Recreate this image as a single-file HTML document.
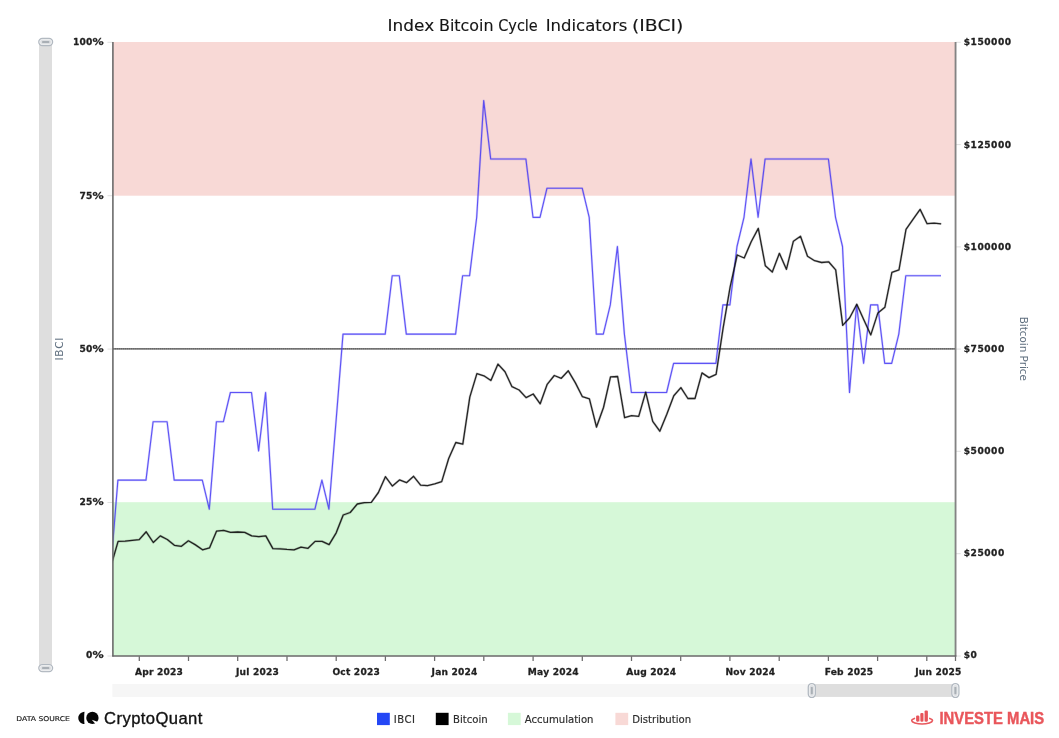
<!DOCTYPE html>
<html lang="en">
<head>
<meta charset="utf-8">
<title>Index Bitcoin Cycle Indicators (IBCI)</title>
<style>
html,body{margin:0;padding:0;background:#fff;}
body{width:1059px;height:738px;overflow:hidden;position:relative;font-family:"DejaVu Sans","Liberation Sans",sans-serif;}
svg{position:absolute;left:0;top:0;display:block;}
text{font-family:"DejaVu Sans","Liberation Sans",sans-serif;}
.ax{font-weight:bold;font-size:9.1px;letter-spacing:0.2px;fill:#1f1f1f;stroke:#1f1f1f;stroke-width:0.28px;stroke-linejoin:round;}
.lg{font-size:10.1px;fill:#2c2c2c;stroke:#2c2c2c;stroke-width:0.16px;}
.ttl{font-size:15.1px;fill:#151515;stroke:#151515;stroke-width:0.12px;}
.yt{font-size:10.6px;fill:#5f6f7f;}
.yl{letter-spacing:0.7px;}
</style>
</head>
<body>
<svg width="1059" height="738" viewBox="0 0 1059 738">
  <!-- zones -->
  <rect x="112.7" y="42" width="842.8" height="153.7" fill="#f8d9d6"/>
  <rect x="112.7" y="502.2" width="842.8" height="153.6" fill="#d6f8d8"/>

  <!-- ticks (faint) -->
  <g stroke="#dcdcdc" stroke-width="0.9">
    <path d="M107.5 42.3H112.5M107.5 195.7H112.5M107.5 349.1H112.5M107.5 502.5H112.5M107.5 656H112.5"/>
    <path d="M955.5 42.3H960.8M955.5 144.6H960.8M955.5 246.9H960.8M955.5 349.1H960.8M955.5 451.3H960.8M955.5 553.7H960.8M955.5 656H960.8"/>
  </g>

  <!-- 50% dotted guide -->
  <line x1="113" y1="348.8" x2="955" y2="348.8" stroke="#929292" stroke-width="1.65"/>
  <line x1="113" y1="348.8" x2="955" y2="348.8" stroke="#3a3a3a" stroke-opacity="0.5" stroke-width="1.5" stroke-dasharray="1.4 0.55"/>

  <!-- series -->
  <clipPath id="plot"><rect x="112.9" y="40" width="842.8" height="617"/></clipPath>
  <g clip-path="url(#plot)" fill="none" stroke-linejoin="round">
    <polyline stroke="#4336f3" stroke-opacity="0.2" stroke-width="2.3" points="110.8,567.6 117.9,480.1 124.9,480.1 132.0,480.1 139.0,480.1 146.0,480.1 153.1,421.7 160.1,421.7 167.1,421.7 174.2,480.1 181.2,480.1 188.2,480.1 195.3,480.1 202.3,480.1 209.3,509.2 216.4,421.7 223.4,421.7 230.4,392.5 237.5,392.5 244.5,392.5 251.5,392.5 258.6,450.9 265.6,392.5 272.7,509.2 279.7,509.2 286.7,509.2 293.8,509.2 300.8,509.2 307.8,509.2 314.9,509.2 321.9,480.1 328.9,509.2 336.0,421.7 343.0,334.1 350.0,334.1 357.1,334.1 364.1,334.1 371.1,334.1 378.2,334.1 385.2,334.1 392.2,275.7 399.3,275.7 406.3,334.1 413.4,334.1 420.4,334.1 427.4,334.1 434.5,334.1 441.5,334.1 448.5,334.1 455.6,334.1 462.6,275.7 469.6,275.7 476.7,217.3 483.7,100.6 490.7,159.0 497.8,159.0 504.8,159.0 511.8,159.0 518.9,159.0 525.9,159.0 533.0,217.3 540.0,217.3 547.0,188.2 554.1,188.2 561.1,188.2 568.1,188.2 575.2,188.2 582.2,188.2 589.2,217.3 596.3,334.1 603.3,334.1 610.3,304.9 617.4,246.5 624.4,334.1 631.4,392.5 638.5,392.5 645.5,392.5 652.5,392.5 659.6,392.5 666.6,392.5 673.6,363.3 680.7,363.3 687.7,363.3 694.8,363.3 701.8,363.3 708.8,363.3 715.9,363.3 722.9,304.9 729.9,304.9 737.0,246.5 744.0,217.3 751.0,159.0 758.1,217.3 765.1,159.0 772.1,159.0 779.2,159.0 786.2,159.0 793.2,159.0 800.3,159.0 807.3,159.0 814.4,159.0 821.4,159.0 828.4,159.0 835.5,217.3 842.5,246.5 849.5,392.5 856.6,304.9 863.6,363.3 870.6,304.9 877.7,304.9 884.7,363.3 891.7,363.3 898.8,334.1 905.8,275.7 912.8,275.7 919.9,275.7 926.9,275.7 933.9,275.7 941.0,275.7"/>
    <polyline stroke="#4336f3" stroke-opacity="0.82" stroke-width="1.15" points="110.8,567.6 117.9,480.1 124.9,480.1 132.0,480.1 139.0,480.1 146.0,480.1 153.1,421.7 160.1,421.7 167.1,421.7 174.2,480.1 181.2,480.1 188.2,480.1 195.3,480.1 202.3,480.1 209.3,509.2 216.4,421.7 223.4,421.7 230.4,392.5 237.5,392.5 244.5,392.5 251.5,392.5 258.6,450.9 265.6,392.5 272.7,509.2 279.7,509.2 286.7,509.2 293.8,509.2 300.8,509.2 307.8,509.2 314.9,509.2 321.9,480.1 328.9,509.2 336.0,421.7 343.0,334.1 350.0,334.1 357.1,334.1 364.1,334.1 371.1,334.1 378.2,334.1 385.2,334.1 392.2,275.7 399.3,275.7 406.3,334.1 413.4,334.1 420.4,334.1 427.4,334.1 434.5,334.1 441.5,334.1 448.5,334.1 455.6,334.1 462.6,275.7 469.6,275.7 476.7,217.3 483.7,100.6 490.7,159.0 497.8,159.0 504.8,159.0 511.8,159.0 518.9,159.0 525.9,159.0 533.0,217.3 540.0,217.3 547.0,188.2 554.1,188.2 561.1,188.2 568.1,188.2 575.2,188.2 582.2,188.2 589.2,217.3 596.3,334.1 603.3,334.1 610.3,304.9 617.4,246.5 624.4,334.1 631.4,392.5 638.5,392.5 645.5,392.5 652.5,392.5 659.6,392.5 666.6,392.5 673.6,363.3 680.7,363.3 687.7,363.3 694.8,363.3 701.8,363.3 708.8,363.3 715.9,363.3 722.9,304.9 729.9,304.9 737.0,246.5 744.0,217.3 751.0,159.0 758.1,217.3 765.1,159.0 772.1,159.0 779.2,159.0 786.2,159.0 793.2,159.0 800.3,159.0 807.3,159.0 814.4,159.0 821.4,159.0 828.4,159.0 835.5,217.3 842.5,246.5 849.5,392.5 856.6,304.9 863.6,363.3 870.6,304.9 877.7,304.9 884.7,363.3 891.7,363.3 898.8,334.1 905.8,275.7 912.8,275.7 919.9,275.7 926.9,275.7 933.9,275.7 941.0,275.7"/>
    <g transform="translate(0.2 0.2)">
      <polyline stroke="#111" stroke-opacity="0.2" stroke-width="2.4" points="110.8,565.6 117.9,541.2 124.9,541.0 132.0,540.2 139.0,539.4 146.0,531.6 153.1,542.3 160.1,535.7 167.1,539.3 174.2,545.1 181.2,546.1 188.2,540.6 195.3,544.7 202.3,549.6 209.3,547.7 216.4,530.9 223.4,530.2 230.4,532.2 237.5,531.8 244.5,532.2 251.5,535.7 258.6,536.5 265.6,535.7 272.7,548.4 279.7,548.6 286.7,549.2 293.8,549.6 300.8,546.9 307.8,548.1 314.9,541.2 321.9,541.2 328.9,544.4 336.0,532.6 343.0,514.8 350.0,512.3 357.1,503.8 364.1,502.5 371.1,502.2 378.2,492.3 385.2,476.5 392.2,485.9 399.3,479.7 406.3,482.5 413.4,476.1 420.4,485.0 427.4,485.5 434.5,483.7 441.5,481.4 448.5,458.3 455.6,442.3 462.6,444.0 469.6,396.9 476.7,373.4 483.7,375.6 490.7,380.3 497.8,363.9 504.8,371.6 511.8,386.5 518.9,389.8 525.9,397.4 533.0,393.8 540.0,403.6 547.0,384.1 554.1,375.3 561.1,378.1 568.1,370.6 575.2,382.7 582.2,396.5 589.2,398.6 596.3,426.8 603.3,407.3 610.3,376.7 617.4,376.3 624.4,417.5 631.4,415.4 638.5,416.2 645.5,391.9 652.5,421.1 659.6,431.0 666.6,414.0 673.6,395.5 680.7,387.4 687.7,398.3 694.8,398.3 701.8,372.7 708.8,377.4 715.9,374.2 722.9,328.0 729.9,287.0 737.0,254.8 744.0,257.8 751.0,241.5 758.1,228.2 765.1,265.5 772.1,271.9 779.2,253.1 786.2,269.1 793.2,241.0 800.3,236.1 807.3,256.0 814.4,260.5 821.4,262.3 828.4,261.6 835.5,269.7 842.5,325.2 849.5,317.6 856.6,304.1 863.6,319.5 870.6,334.7 877.7,312.7 884.7,307.0 891.7,272.2 898.8,269.7 905.8,229.2 912.8,219.2 919.9,209.2 926.9,223.5 933.9,222.9 941.0,223.7"/>
      <polyline stroke="#111" stroke-opacity="0.9" stroke-width="1.3" points="110.8,565.6 117.9,541.2 124.9,541.0 132.0,540.2 139.0,539.4 146.0,531.6 153.1,542.3 160.1,535.7 167.1,539.3 174.2,545.1 181.2,546.1 188.2,540.6 195.3,544.7 202.3,549.6 209.3,547.7 216.4,530.9 223.4,530.2 230.4,532.2 237.5,531.8 244.5,532.2 251.5,535.7 258.6,536.5 265.6,535.7 272.7,548.4 279.7,548.6 286.7,549.2 293.8,549.6 300.8,546.9 307.8,548.1 314.9,541.2 321.9,541.2 328.9,544.4 336.0,532.6 343.0,514.8 350.0,512.3 357.1,503.8 364.1,502.5 371.1,502.2 378.2,492.3 385.2,476.5 392.2,485.9 399.3,479.7 406.3,482.5 413.4,476.1 420.4,485.0 427.4,485.5 434.5,483.7 441.5,481.4 448.5,458.3 455.6,442.3 462.6,444.0 469.6,396.9 476.7,373.4 483.7,375.6 490.7,380.3 497.8,363.9 504.8,371.6 511.8,386.5 518.9,389.8 525.9,397.4 533.0,393.8 540.0,403.6 547.0,384.1 554.1,375.3 561.1,378.1 568.1,370.6 575.2,382.7 582.2,396.5 589.2,398.6 596.3,426.8 603.3,407.3 610.3,376.7 617.4,376.3 624.4,417.5 631.4,415.4 638.5,416.2 645.5,391.9 652.5,421.1 659.6,431.0 666.6,414.0 673.6,395.5 680.7,387.4 687.7,398.3 694.8,398.3 701.8,372.7 708.8,377.4 715.9,374.2 722.9,328.0 729.9,287.0 737.0,254.8 744.0,257.8 751.0,241.5 758.1,228.2 765.1,265.5 772.1,271.9 779.2,253.1 786.2,269.1 793.2,241.0 800.3,236.1 807.3,256.0 814.4,260.5 821.4,262.3 828.4,261.6 835.5,269.7 842.5,325.2 849.5,317.6 856.6,304.1 863.6,319.5 870.6,334.7 877.7,312.7 884.7,307.0 891.7,272.2 898.8,269.7 905.8,229.2 912.8,219.2 919.9,209.2 926.9,223.5 933.9,222.9 941.0,223.7"/>
    </g>
  </g>

  <!-- axes -->
  <g fill="none">
    <line x1="112.9" y1="42" x2="112.9" y2="656.6" stroke="#6b6b6b" stroke-width="1.6"/>
    <line x1="955.55" y1="42" x2="955.55" y2="656.6" stroke="#838383" stroke-width="1.85"/>
    <line x1="112.2" y1="656" x2="956.3" y2="656" stroke="#696969" stroke-width="1.4"/>
    <path stroke="#6c6c6c" stroke-width="1.25" d="M139.3 656.3V661M188.5 656.3V661M237.7 656.3V661M287.0 656.3V661M336.2 656.3V661M385.4 656.3V661M434.6 656.3V661M483.8 656.3V661M533.1 656.3V661M582.3 656.3V661M631.5 656.3V661M680.7 656.3V661M729.9 656.3V661M779.2 656.3V661M828.4 656.3V661M877.6 656.3V661M926.8 656.3V661M955.5 656.3V661"/>
  </g>

  <!-- left value scrollbar -->
  <rect x="39" y="42" width="13" height="626" fill="#dedede"/>
  <g>
    <rect x="38.85" y="38.45" width="13.7" height="7" rx="3.5" ry="3.5" fill="#e8eaec" stroke="#b1b8c0" stroke-width="1.4"/>
    <rect x="39.85" y="39.45" width="11.70" height="5.00" rx="2.50" ry="2.50" fill="#dddfe2" stroke="#f2f3f5" stroke-width="0.7"/>
    <rect x="42.1" y="41" width="7.2" height="2" rx="0.6" fill="#a9afb5"/>
    <rect x="38.85" y="664.6" width="13.7" height="7" rx="3.5" ry="3.5" fill="#e8eaec" stroke="#b1b8c0" stroke-width="1.4"/>
    <rect x="39.85" y="665.60" width="11.70" height="5.00" rx="2.50" ry="2.50" fill="#dddfe2" stroke="#f2f3f5" stroke-width="0.7"/>
    <rect x="42.1" y="667.1" width="7.2" height="2" rx="0.6" fill="#a9afb5"/>
  </g>

  <!-- bottom category scrollbar -->
  <rect x="112.4" y="684" width="843.1" height="12.9" fill="#f6f6f6"/>
  <rect x="811.8" y="684" width="143.6" height="12.9" fill="#dedede"/>
  <g>
    <rect x="808.35" y="683.6" width="6.9" height="13.8" rx="3.45" ry="3.45" fill="#e8eaec" stroke="#b1b8c0" stroke-width="1.4"/>
    <rect x="809.35" y="684.60" width="4.90" height="11.80" rx="2.45" ry="2.45" fill="#dddfe2" stroke="#f2f3f5" stroke-width="0.7"/>
    <rect x="810.8" y="687" width="2" height="7.2" rx="0.6" fill="#a9afb5"/>
    <rect x="951.95" y="683.6" width="6.9" height="13.8" rx="3.45" ry="3.45" fill="#e8eaec" stroke="#b1b8c0" stroke-width="1.4"/>
    <rect x="952.95" y="684.60" width="4.90" height="11.80" rx="2.45" ry="2.45" fill="#dddfe2" stroke="#f2f3f5" stroke-width="0.7"/>
    <rect x="954.4" y="687" width="2" height="7.2" rx="0.6" fill="#a9afb5"/>
  </g>

  <!-- title -->
  <text class="ttl" y="30.9"><tspan x="387.6" textLength="46.6" lengthAdjust="spacingAndGlyphs">Index</tspan> <tspan x="439" textLength="54.6" lengthAdjust="spacingAndGlyphs">Bitcoin</tspan> <tspan x="498.2" textLength="39.6" lengthAdjust="spacingAndGlyphs">Cycle</tspan> <tspan x="545.7" textLength="81.6" lengthAdjust="spacingAndGlyphs">Indicators</tspan> <tspan x="632" textLength="51.4" lengthAdjust="spacingAndGlyphs">(IBCI)</tspan></text>

  <!-- left axis labels -->
  <g class="ax" text-anchor="end">
    <text x="103.9" y="45.4">100<tspan textLength="11.4" lengthAdjust="spacingAndGlyphs">%</tspan></text>
    <text x="103.9" y="198.65">75<tspan textLength="11.4" lengthAdjust="spacingAndGlyphs">%</tspan></text>
    <text x="103.9" y="351.9">50<tspan textLength="11.4" lengthAdjust="spacingAndGlyphs">%</tspan></text>
    <text x="103.9" y="505.15">25<tspan textLength="11.4" lengthAdjust="spacingAndGlyphs">%</tspan></text>
    <text x="103.9" y="658.45">0<tspan textLength="11.4" lengthAdjust="spacingAndGlyphs">%</tspan></text>
  </g>
  <!-- right axis labels -->
  <g class="ax" text-anchor="start" style="letter-spacing:0.5px">
    <text x="963.8" y="45.4">$150000</text>
    <text x="963.8" y="147.6">$125000</text>
    <text x="963.8" y="249.75">$100000</text>
    <text x="963.8" y="351.9">$75000</text>
    <text x="963.8" y="454.1">$50000</text>
    <text x="963.8" y="556.25">$25000</text>
    <text x="963.8" y="658.45">$0</text>
  </g>
  <!-- x axis labels -->
  <g class="ax" text-anchor="middle">
    <text x="159" y="675.3">Apr 2023</text>
    <text x="257.5" y="675.3">Jul 2023</text>
    <text x="356.2" y="675.3">Oct 2023</text>
    <text x="454.6" y="675.3">Jan 2024</text>
    <text x="553.3" y="675.3">May 2024</text>
    <text x="651.3" y="675.3">Aug 2024</text>
    <text x="750.4" y="675.3">Nov 2024</text>
    <text x="849" y="675.3">Feb 2025</text>
    <text x="938.4" y="675.3">Jun 2025</text>
  </g>

  <!-- axis titles -->
  <text class="yt yl" transform="translate(62.6 348.7) rotate(-90)" text-anchor="middle">IBCI</text>
  <text class="yt" transform="translate(1019.7 348.8) rotate(90)" text-anchor="middle" style="font-size:10.4px">Bitcoin Price</text>

  <!-- legend -->
  <rect x="377" y="712.8" width="12.8" height="12.3" fill="#2447f5"/>
  <text class="lg" x="393.8" y="723.4" style="letter-spacing:0.5px">IBCI</text>
  <rect x="435.8" y="712.8" width="12.8" height="12.3" fill="#000"/>
  <text class="lg" x="453" y="723.4">Bitcoin</text>
  <rect x="507.9" y="712.8" width="12.8" height="12.3" fill="#d6f8d8"/>
  <text class="lg" x="524.7" y="723.4">Accumulation</text>
  <rect x="615.4" y="712.8" width="12.8" height="12.3" fill="#f8d9d6"/>
  <text class="lg" x="632.2" y="723.4">Distribution</text>

  <!-- data source / CryptoQuant -->
  <text x="16.3" y="720.9" textLength="53.6" lengthAdjust="spacingAndGlyphs" style="font-family:'DejaVu Sans','Liberation Sans',sans-serif;font-size:6.6px;fill:#222;stroke:#222;stroke-width:0.15px">DATA SOURCE</text>
  <g fill="#060606">
    <path d="M84.5 711.7C80.9 712.1 78.3 714.7 78.3 717.9C78.3 721.1 80.9 723.7 84.5 724.1C84.3 722.2 84.2 720.1 84.2 717.9C84.2 715.7 84.3 713.6 84.5 711.7Z"/>
    <circle cx="92.4" cy="717.95" r="6.15"/>
    <path d="M91.8 719.8L99.5 722.4L97.3 725.9Z" fill="#fff"/>
  </g>
  <text x="104.1" y="723.5" style="font-family:'Liberation Sans',sans-serif;font-size:16.6px;fill:#111;stroke:#111;stroke-width:0.35px;letter-spacing:0.42px">CryptoQuant</text>

  <!-- Investe Mais -->
  <g fill="#e8545a">
    <rect x="916.1" y="715.4" width="3.1" height="6.3" rx="1.1"/>
    <rect x="920.3" y="712.9" width="3.2" height="8.8" rx="1.1"/>
    <rect x="924.6" y="710.5" width="3.3" height="11.2" rx="1.1"/>
    <rect x="919.2" y="716.5" width="1.1" height="5" fill="#f2b4b6"/>
    <rect x="923.5" y="714" width="1.1" height="7.5" fill="#f2b4b6"/>
  </g>
  <path d="M914.4 718.4A10.4 3.25 0 1 0 929.8 718.4" fill="none" stroke="#e8585d" stroke-width="1.6" stroke-linecap="round"/>
  <text x="939.5" y="723.6" textLength="104.6" lengthAdjust="spacingAndGlyphs" style="font-family:'Liberation Sans',sans-serif;font-weight:bold;font-size:16.5px;fill:#e9565b;stroke:#e9565b;stroke-width:0.45px">INVESTE MAIS</text>
</svg>
</body>
</html>
